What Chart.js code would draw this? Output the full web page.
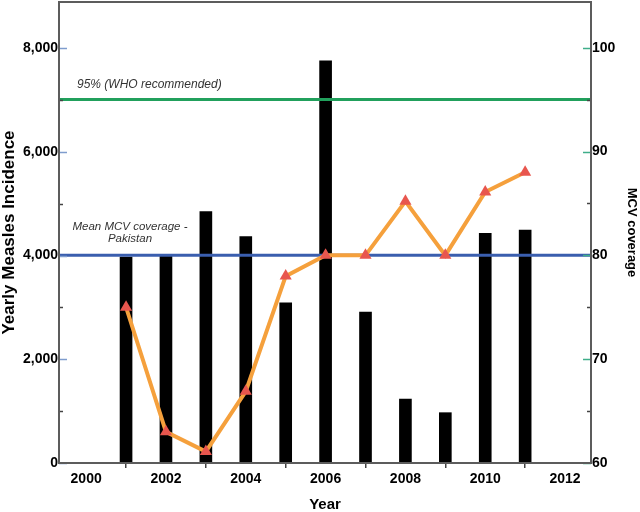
<!DOCTYPE html>
<html>
<head>
<meta charset="utf-8">
<script src="https://cdn.jsdelivr.net/npm/chart.js@4.4.1/dist/chart.umd.min.js"></script>
<style>
  body { margin: 0; background: #fff; }
</style>
</head>
<body>
<canvas id="myChart" width="640" height="512"></canvas>
<script>
// data
const years = [2001, 2002, 2003, 2004, 2005, 2006, 2007, 2008, 2009, 2010, 2011];
const incidence = [3970, 3990, 4845, 4363, 3090, 7755, 2911, 1234, 970, 4428, 4492];
const mcvCoverage = [75.0, 63.0, 61.1, 66.9, 78.0, 80.0, 80.0, 85.2, 80.0, 86.1, 88.0];
const whoTarget = 95;
const meanCoverage = 80;
const xRange = [1999.32, 2012.65];
const leftRange = [0, 8887];
const rightRange = [60, 104.4];
const xTicks = [2000, 2002, 2004, 2006, 2008, 2010, 2012];
const leftTicks = [0, 2000, 4000, 6000, 8000];
const rightTicks = [60, 70, 80, 90, 100];
const whoLabel = '95% (WHO recommended)';
const meanLabel = ['Mean MCV coverage -', 'Pakistan'];

Chart.defaults.font.family = "'Liberation Sans', Arial, sans-serif";
Chart.defaults.color = '#000';

const tickFont = { size: 14, weight: 'bold' };

// box round the plot, inner tick marks and the two notes
const framePlugin = {
    id: 'frame',
    afterDatasetsDraw(chart) {
        const c = chart.ctx;
        const a = chart.chartArea;
        const yL = chart.scales.y;
        const yR = chart.scales.y2;
        c.save();
        // ticks on left axis
        c.lineWidth = 1.5;
        for (let i = 0; i < leftTicks.length; i++) {
            let py = Math.round(yL.getPixelForValue(leftTicks[i])) + 0.5;
            c.strokeStyle = '#7f9ccd';
            c.beginPath(); c.moveTo(a.left, py); c.lineTo(a.left + 8, py); c.stroke();
            if (i < leftTicks.length - 1) {
                let my = Math.round(yL.getPixelForValue((leftTicks[i] + leftTicks[i + 1]) / 2)) + 0.5;
                c.strokeStyle = '#444';
                c.beginPath(); c.moveTo(a.left, my); c.lineTo(a.left + 4, my); c.stroke();
            }
        }
        // ticks on right axis
        for (let i = 0; i < rightTicks.length; i++) {
            let py = Math.round(yR.getPixelForValue(rightTicks[i])) + 0.5;
            c.strokeStyle = '#3fae8a';
            c.beginPath(); c.moveTo(a.right - 8, py); c.lineTo(a.right, py); c.stroke();
            if (i < rightTicks.length - 1) {
                let my = Math.round(yR.getPixelForValue((rightTicks[i] + rightTicks[i + 1]) / 2)) + 0.5;
                c.strokeStyle = '#444';
                c.beginPath(); c.moveTo(a.right - 4, my); c.lineTo(a.right, my); c.stroke();
            }
        }
        // frame
        c.strokeStyle = '#5c5c5c';
        c.lineWidth = 2;
        c.strokeRect(a.left, a.top, a.right - a.left, a.bottom - a.top);

        // notes
        c.fillStyle = '#333';
        c.font = "italic 12px 'Liberation Sans', Arial, sans-serif";
        c.textAlign = 'left';
        c.textBaseline = 'alphabetic';
        c.fillText(whoLabel, a.left + 18, yR.getPixelForValue(whoTarget) - 12);
        c.textAlign = 'center';
        c.font = "italic 11.5px 'Liberation Sans', Arial, sans-serif";
        let yb = yR.getPixelForValue(meanCoverage);
        c.fillText(meanLabel[0], a.left + 71, yb - 25);
        c.fillText(meanLabel[1], a.left + 71, yb - 13);
        c.restore();
    }
};

function pinY(width) {
    return s => { s.width = width; s.paddingTop = 0; s.paddingBottom = 0; };
}

new Chart(document.getElementById('myChart'), {
    type: 'bar',
    data: {
        datasets: [{
            type: 'line',
            label: 'MCV coverage',
            data: years.map((x, i) => ({ x: x, y: mcvCoverage[i] })),
            yAxisID: 'y2',
            borderColor: '#f5a03c',
            borderWidth: 4,
            pointStyle: 'triangle',
            pointRadius: 7,
            pointBackgroundColor: '#e8564e',
            pointBorderColor: '#e8564e',
            pointBorderWidth: 0,
            tension: 0,
            order: 1
        }, {
            type: 'line',
            label: 'WHO',
            data: xRange.map(x => ({ x: x, y: whoTarget })),
            yAxisID: 'y2',
            borderColor: '#21a05c',
            borderWidth: 3,
            pointRadius: 0,
            order: 2
        }, {
            type: 'line',
            label: 'Mean',
            data: xRange.map(x => ({ x: x, y: meanCoverage })),
            yAxisID: 'y2',
            borderColor: '#3a5eae',
            borderWidth: 3,
            pointRadius: 0,
            order: 2
        }, {
            type: 'bar',
            label: 'Incidence',
            data: years.map((x, i) => ({ x: x, y: incidence[i] })),
            yAxisID: 'y',
            backgroundColor: '#000',
            barThickness: 12,
            order: 3
        }]
    },
    options: {
        responsive: false,
        animation: false,
        layout: { autoPadding: false, padding: { top: 2, left: 0, right: 0, bottom: 0 } },
        plugins: { legend: { display: false }, tooltip: { enabled: false } },
        scales: {
            x: {
                type: 'linear',
                offset: false,
                min: xRange[0],
                max: xRange[1],
                afterBuildTicks: s => { s.ticks = xTicks.map(v => ({ value: v })); },
                afterFit: s => { s.height = 49; s.paddingLeft = 0; s.paddingRight = 0; },
                grid: { drawOnChartArea: false, drawTicks: true, tickLength: 5, color: '#444', lineWidth: 1.5 },
                border: { display: false },
                ticks: { font: tickFont, padding: 3, maxRotation: 0, callback: v => String(v) },
                title: { display: true, text: 'Year', font: { size: 15, weight: 'bold', lineHeight: 1 }, padding: 0 }
            },
            y: {
                position: 'left',
                min: leftRange[0],
                max: leftRange[1],
                afterBuildTicks: s => { s.ticks = leftTicks.map(v => ({ value: v })); },
                afterFit: pinY(59),
                grid: { display: false, drawTicks: false },
                border: { display: false },
                ticks: { font: tickFont, padding: 1, callback: v => v.toLocaleString('en-US') },
                title: { display: true, text: 'Yearly Measles Incidence', font: { size: 17, weight: 'bold', lineHeight: 1.1 }, padding: 0 }
            },
            y2: {
                position: 'right',
                min: rightRange[0],
                max: rightRange[1],
                afterBuildTicks: s => { s.ticks = rightTicks.map(v => ({ value: v })); },
                afterFit: pinY(49),
                grid: { display: false, drawTicks: false },
                border: { display: false },
                ticks: { font: tickFont, padding: 1, callback: v => String(v) },
                title: { display: true, text: 'MCV coverage', font: { size: 13, weight: 'bold', lineHeight: 1.3 }, padding: 0 }
            }
        }
    },
    plugins: [framePlugin]
});
</script>
</body>
</html>
